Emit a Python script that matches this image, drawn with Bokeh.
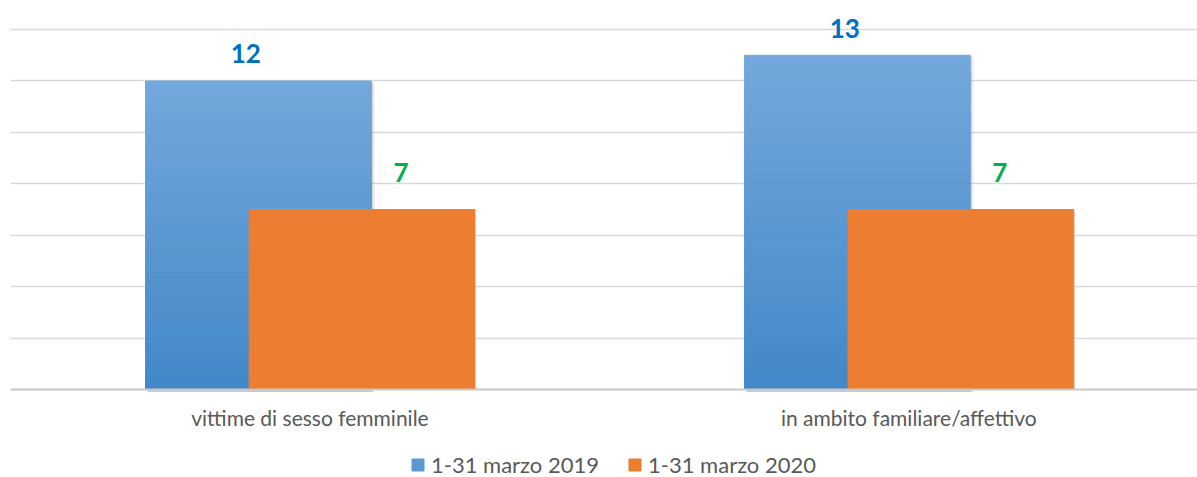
from bokeh.plotting import figure
from bokeh.models import Range1d, FixedTicker, Legend, LegendItem, ColumnDataSource, Span
from bokeh.core.properties import value
from bokeh.embed import file_html
from bokeh.resources import INLINE

categories = ["vittime di sesso femminile", "in ambito familiare/affettivo"]
series_names = ["1-31 marzo 2019", "1-31 marzo 2020"]
values_2019 = [12, 13]
values_2020 = [7, 7]
grid_ticks = [2, 4, 6, 8, 10, 12, 14]

FONT = "Lato"
BLUE_TOP = (0x74, 0xA8, 0xDC)
BLUE_BOT = (0x42, 0x88, 0xC8)
ORANGE = "#ED7D31"
GRID = "#D9D9D9"

bar_w = 0.377
off_blue = -0.086
off_orange = 0.087
shadow_dx = 0.006

p = figure(width=1197, height=477, output_backend="svg", toolbar_location=None,
           x_range=Range1d(0, 1.982), y_range=Range1d(-3.423, 15.13),
           min_border_left=10, min_border_right=0, min_border_top=0, min_border_bottom=0,
           outline_line_color=None, background_fill_color="white", border_fill_color="white")
p.xaxis.visible = False
p.yaxis.visible = False
p.xgrid.visible = False
p.ygrid.ticker = FixedTicker(ticks=grid_ticks)
p.ygrid.grid_line_color = GRID
p.ygrid.grid_line_width = 1.5

centers = [i + 0.5 for i in range(len(categories))]

# soft shadow behind the blue bars
for k, a in enumerate([0.10, 0.07, 0.04]):
    d = shadow_dx * (k + 1) / 3
    p.quad(left=[c + off_blue - bar_w / 2 + d for c in centers],
           right=[c + off_blue + bar_w / 2 + d for c in centers],
           top=[v - 0.05 for v in values_2019], bottom=[-0.1] * len(centers),
           fill_color="#000000", fill_alpha=a, line_color=None)

# blue bars with vertical gradient (sliced)
N = 160
top, bottom, left, right, colors = [], [], [], [], []
for c, v in zip(centers, values_2019):
    for k in range(N):
        y0 = v * k / N
        y1 = v * (k + 1) / N
        t = (y0 + y1) / 2 / v
        col = tuple(int(round(BLUE_BOT[j] + (BLUE_TOP[j] - BLUE_BOT[j]) * t)) for j in range(3))
        hexc = "#%02x%02x%02x" % col
        bottom.append(y0); top.append(y1)
        left.append(c + off_blue - bar_w / 2); right.append(c + off_blue + bar_w / 2)
        colors.append(hexc)
src_b = ColumnDataSource(dict(top=top, bottom=bottom, left=left, right=right, color=colors))
r_blue = p.quad(top="top", bottom="bottom", left="left", right="right", fill_color="color",
                line_color="color", line_width=1, source=src_b)

src_o = ColumnDataSource(dict(x=[c + off_orange for c in centers], top=values_2020))
r_orange = p.vbar(x="x", top="top", bottom=0, width=bar_w, fill_color=ORANGE, line_color=ORANGE, source=src_o)

# baseline
p.add_layout(Span(location=0, dimension="width", line_color="#C8C8C8", line_width=2))

# data labels
p.text(x=[c + off_blue - 0.021 for c in centers], y=values_2019, text=[str(v) for v in values_2019],
       text_font=value(FONT), text_font_style="bold", text_font_size="26px",
       text_color="#0070C0", text_align="center", text_baseline="alphabetic", y_offset=-27)
p.text(x=[c + off_orange + 0.065 for c in centers], y=values_2020, text=[str(v) for v in values_2020],
       text_font=value(FONT), text_font_style="bold", text_font_size="26px",
       text_color="#00B050", text_align="center", text_baseline="alphabetic", y_offset=-37)

# category labels
p.text(x=centers, y=[0] * len(centers), text=categories, y_offset=28,
       text_font=value(FONT), text_font_size="21px", text_color="#595959",
       text_align="center", text_baseline="middle")

# legend
legend = Legend(items=[LegendItem(label=series_names[0], renderers=[r_blue], index=N // 2),
                       LegendItem(label=series_names[1], renderers=[r_orange])],
                orientation="horizontal", location=(400, -1),
                label_text_font=FONT, label_text_font_size="22px", label_text_color="#595959",
                glyph_width=15, glyph_height=15, spacing=28, label_standoff=6,
                border_line_color=None, background_fill_alpha=0, margin=0, padding=2)
p.add_layout(legend)

open("out.html", "w").write(file_html(p, INLINE))
